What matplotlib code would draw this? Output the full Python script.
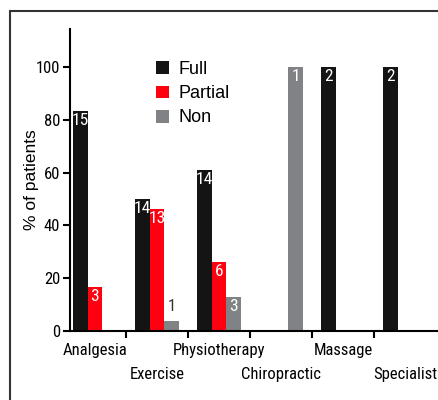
import matplotlib
matplotlib.use("Agg")
import matplotlib.pyplot as plt
from matplotlib.patches import Rectangle
import numpy as np

# data: % of patients with full / partial / no relief, and patient counts
categories = ["Analgesia", "Exercise", "Physiotherapy", "Chiropractic", "Massage", "Specialist"]
full_pct = [83.3, 50.0, 60.9, 0, 100, 100]
partial_pct = [16.7, 46.4, 26.1, 0, 0, 0]
non_pct = [0, 3.6, 13.0, 100, 0, 0]
full_n = [15, 14, 14, 0, 2, 2]
partial_n = [3, 13, 6, 0, 0, 0]
non_n = [0, 1, 3, 1, 0, 0]

narrow = ["Roboto Condensed", "DejaVu Sans"]
plain = ["Liberation Sans", "DejaVu Sans"]

fig = plt.figure(figsize=(4.38, 4.00), dpi=100)
ax = fig.add_axes([70 / 438, 1 - 331 / 400, 1 - 70 / 438, (331 - 29) / 400])

x = np.arange(len(categories))
w = 0.235
colors = {"Full": "#141414", "Partial": "#ff0011", "Non": "#808285"}

series = [
    ("Full", full_pct, full_n, -w),
    ("Partial", partial_pct, partial_n, 0),
    ("Non", non_pct, non_n, w),
]
for name, pct, counts, off in series:
    ax.bar(x + off, pct, width=w, color=colors[name], label=name)
    for xi, p, n in zip(x, pct, counts):
        if n == 0:
            continue
        if p < 8:
            ax.text(xi + off, p + 3, str(n), ha="center", va="bottom",
                    color="#333333", fontsize=12, family=narrow)
        else:
            ax.text(xi + off, p - 0.8, str(n), ha="center", va="top",
                    color="white", fontsize=12.5, family=narrow)

ax.set_xlim(-0.4, 5.53)
ax.set_ylim(0, 114.4)

ax.spines["top"].set_visible(False)
ax.spines["right"].set_visible(False)
ax.spines["left"].set_linewidth(1.5)
ax.spines["bottom"].set_linewidth(1.5)

ax.set_yticks([0, 20, 40, 60, 80, 100])
ax.tick_params(axis="y", length=5, width=1.5, pad=2)
for lab in ax.get_yticklabels():
    lab.set_family(narrow)
    lab.set_fontsize(12)

# labels alternate between two rows
ax.set_xticks(x)
ax.set_xticklabels(categories)
ax.set_xticks(x[:-1] + 0.5, minor=True)
ax.tick_params(axis="x", which="major", length=0)
ax.tick_params(axis="x", which="minor", length=5, width=1.5)
for i, tick in enumerate(ax.xaxis.get_major_ticks()):
    tick.set_pad(8.5 if i % 2 == 0 else 26)
for lab in ax.get_xticklabels():
    lab.set_family(narrow)
    lab.set_fontsize(12)

ax.set_ylabel("% of patients", fontsize=12.5, family=plain)
ax.yaxis.set_label_coords(-0.085, 0.5)

ax.legend(loc="upper left", bbox_to_anchor=(147 / 438, 1 - 52 / 400),
          bbox_transform=fig.transFigure, frameon=False,
          prop={"family": plain, "size": 13},
          handlelength=0.72, handleheight=0.72, handletextpad=0.55,
          labelspacing=0.4, borderpad=0)

fig.patches.append(Rectangle((10 / 438, -0.1), 1.2, 1.1 - 11 / 400,
                             transform=fig.transFigure, fill=False,
                             edgecolor="#333333", linewidth=1.5))

fig.savefig("out.png", dpi=100)
